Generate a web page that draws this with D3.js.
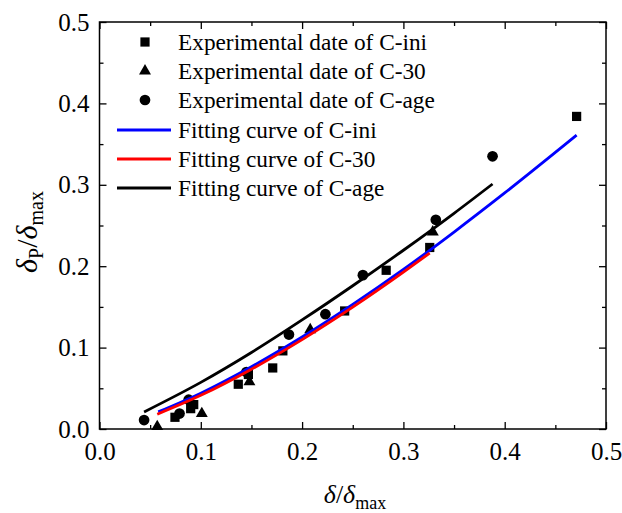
<!DOCTYPE html>
<html>
<head>
<meta charset="utf-8">
<script src="https://cdn.jsdelivr.net/npm/d3@7"></script>
<style>
  body { margin: 0; background: #fff; }
  svg text { font-family: 'Liberation Serif', 'Times New Roman', 'DejaVu Serif', serif; fill: #000; }
</style>
</head>
<body>
<svg id="chart" width="622" height="513"></svg>
<script>
// tick values
var majorTicks = [0, 0.1, 0.2, 0.3, 0.4, 0.5];
var minorTicks = [0.05, 0.15, 0.25, 0.35, 0.45];

// experimental points, [delta/delta_max, delta_p/delta_max]
var iniPoints = [[0.0745, 0.0144], [0.090, 0.025], [0.093, 0.030], [0.137, 0.055], [0.147, 0.067],
  [0.171, 0.075], [0.181, 0.096], [0.242, 0.145], [0.283, 0.195], [0.326, 0.223], [0.471, 0.384]];
var c30Points = [[0.057, 0.003], [0.101, 0.019], [0.148, 0.058], [0.208, 0.122], [0.329, 0.242]];
var agePoints = [[0.044, 0.011], [0.079, 0.019], [0.088, 0.036], [0.145, 0.070], [0.187, 0.116],
  [0.223, 0.141], [0.260, 0.189], [0.332, 0.257], [0.388, 0.335]];

// fitting curves
var iniCurve = [[0.058, 0.021], [0.1, 0.044], [0.15, 0.0765], [0.2, 0.113], [0.25, 0.153],
  [0.3, 0.196], [0.35, 0.242], [0.4, 0.290], [0.471, 0.361]];
var c30Curve = [[0.057, 0.020], [0.1, 0.0432], [0.15, 0.0753], [0.2, 0.1117], [0.25, 0.1516],
  [0.3, 0.1946], [0.326, 0.218]];
var ageCurve = [[0.044, 0.021], [0.1, 0.0573], [0.15, 0.094], [0.2, 0.134], [0.25, 0.176],
  [0.3, 0.2196], [0.35, 0.265], [0.388, 0.301]];

var legendLabels = ["Experimental date of C-ini", "Experimental date of C-30", "Experimental date of C-age",
  "Fitting curve of C-ini", "Fitting curve of C-30", "Fitting curve of C-age"];

var serif = "'Liberation Serif', 'Times New Roman', serif";
var svg = d3.select("#chart");
var x = d3.scaleLinear().domain([0, 0.5]).range([99.5, 606]);
var y = d3.scaleLinear().domain([0, 0.5]).range([429, 22]);
var fmt = d3.format(".1f");

// frame
svg.append("rect")
  .attr("x", x(0)).attr("y", y(0.5))
  .attr("width", x(0.5) - x(0)).attr("height", y(0) - y(0.5))
  .attr("fill", "none").attr("stroke", "#000").attr("stroke-width", 1.5);

function styleAxis(g) {
  g.attr("font-family", serif).attr("font-size", 25);
  g.select(".domain").remove();
  g.selectAll(".tick line").attr("stroke", "#000").attr("stroke-width", 1.3);
}

// bottom
svg.append("g").attr("transform", "translate(0," + y(0) + ")")
  .call(d3.axisBottom(x).tickValues(majorTicks).tickSizeInner(-7).tickPadding(13).tickFormat(fmt))
  .call(styleAxis);
svg.append("g").attr("transform", "translate(0," + y(0) + ")")
  .call(d3.axisBottom(x).tickValues(minorTicks).tickSizeInner(-4).tickFormat(""))
  .call(styleAxis);
// top
svg.append("g").attr("transform", "translate(0," + y(0.5) + ")")
  .call(d3.axisTop(x).tickValues(majorTicks).tickSizeInner(-7).tickFormat(""))
  .call(styleAxis);
svg.append("g").attr("transform", "translate(0," + y(0.5) + ")")
  .call(d3.axisTop(x).tickValues(minorTicks).tickSizeInner(-4).tickFormat(""))
  .call(styleAxis);
// left
svg.append("g").attr("transform", "translate(" + x(0) + ",0)")
  .call(d3.axisLeft(y).tickValues(majorTicks).tickSizeInner(-7).tickPadding(10).tickFormat(fmt))
  .call(styleAxis);
svg.append("g").attr("transform", "translate(" + x(0) + ",0)")
  .call(d3.axisLeft(y).tickValues(minorTicks).tickSizeInner(-4).tickFormat(""))
  .call(styleAxis);
// right
svg.append("g").attr("transform", "translate(" + x(0.5) + ",0)")
  .call(d3.axisRight(y).tickValues(majorTicks).tickSizeInner(-7).tickFormat(""))
  .call(styleAxis);
svg.append("g").attr("transform", "translate(" + x(0.5) + ",0)")
  .call(d3.axisRight(y).tickValues(minorTicks).tickSizeInner(-4).tickFormat(""))
  .call(styleAxis);

// markers
var sqr = d3.symbol().type(d3.symbolSquare).size(85);
var tri = d3.symbol().type(d3.symbolTriangle).size(62);
var cir = d3.symbol().type(d3.symbolCircle).size(90);

function drawPoints(data, sym) {
  svg.append("g").selectAll("path").data(data).enter().append("path")
    .attr("d", sym)
    .attr("transform", function(d) { return "translate(" + x(d[0]) + "," + y(d[1]) + ")"; })
    .attr("fill", "#000");
}
drawPoints(iniPoints, sqr);
drawPoints(c30Points, tri);
drawPoints(agePoints, cir);

// curves
var line = d3.line()
  .x(function(d) { return x(d[0]); })
  .y(function(d) { return y(d[1]); })
  .curve(d3.curveMonotoneX);

svg.append("path").datum(iniCurve).attr("d", line)
  .attr("fill", "none").attr("stroke", "#0000ff").attr("stroke-width", 2.8);
svg.append("path").datum(c30Curve).attr("d", line)
  .attr("fill", "none").attr("stroke", "#ff0000").attr("stroke-width", 2.8)
  .attr("transform", "translate(0,1.5)");
svg.append("path").datum(ageCurve).attr("d", line)
  .attr("fill", "none").attr("stroke", "#000").attr("stroke-width", 2.8);

// legend
var legendY = [42, 71, 100, 130, 159, 188];
var legendSyms = [sqr, tri, cir];
var legendColors = ["#0000ff", "#ff0000", "#000"];
var legend = svg.append("g").attr("font-family", serif);
legendLabels.forEach(function(lab, i) {
  if (i < 3) {
    legend.append("path").attr("d", legendSyms[i])
      .attr("transform", "translate(145," + legendY[i] + ")").attr("fill", "#000");
  } else {
    legend.append("line")
      .attr("x1", 117).attr("x2", 171)
      .attr("y1", legendY[i]).attr("y2", legendY[i])
      .attr("stroke", legendColors[i - 3]).attr("stroke-width", 2.8);
  }
  legend.append("text").attr("x", 178).attr("y", legendY[i] + 8)
    .attr("font-size", 23.3).text(lab);
});

// axis titles
var xt = svg.append("text").attr("x", 355).attr("y", 503)
  .attr("text-anchor", "middle").attr("font-size", 26).attr("font-family", serif);
xt.append("tspan").attr("font-style", "italic").text("δ");
xt.append("tspan").text("/");
xt.append("tspan").attr("font-style", "italic").text("δ");
xt.append("tspan").attr("font-size", 18).attr("dy", 6).text("max");

var yt = svg.append("text")
  .attr("transform", "translate(37,232) rotate(-90)")
  .attr("text-anchor", "middle").attr("font-size", 30).attr("font-family", serif);
yt.append("tspan").attr("font-style", "italic").text("δ");
yt.append("tspan").attr("font-size", 20).attr("dy", 6).text("P");
yt.append("tspan").attr("dy", -6).text("/");
yt.append("tspan").attr("font-style", "italic").text("δ");
yt.append("tspan").attr("font-size", 20).attr("dy", 6).text("max");
</script>
</body>
</html>
